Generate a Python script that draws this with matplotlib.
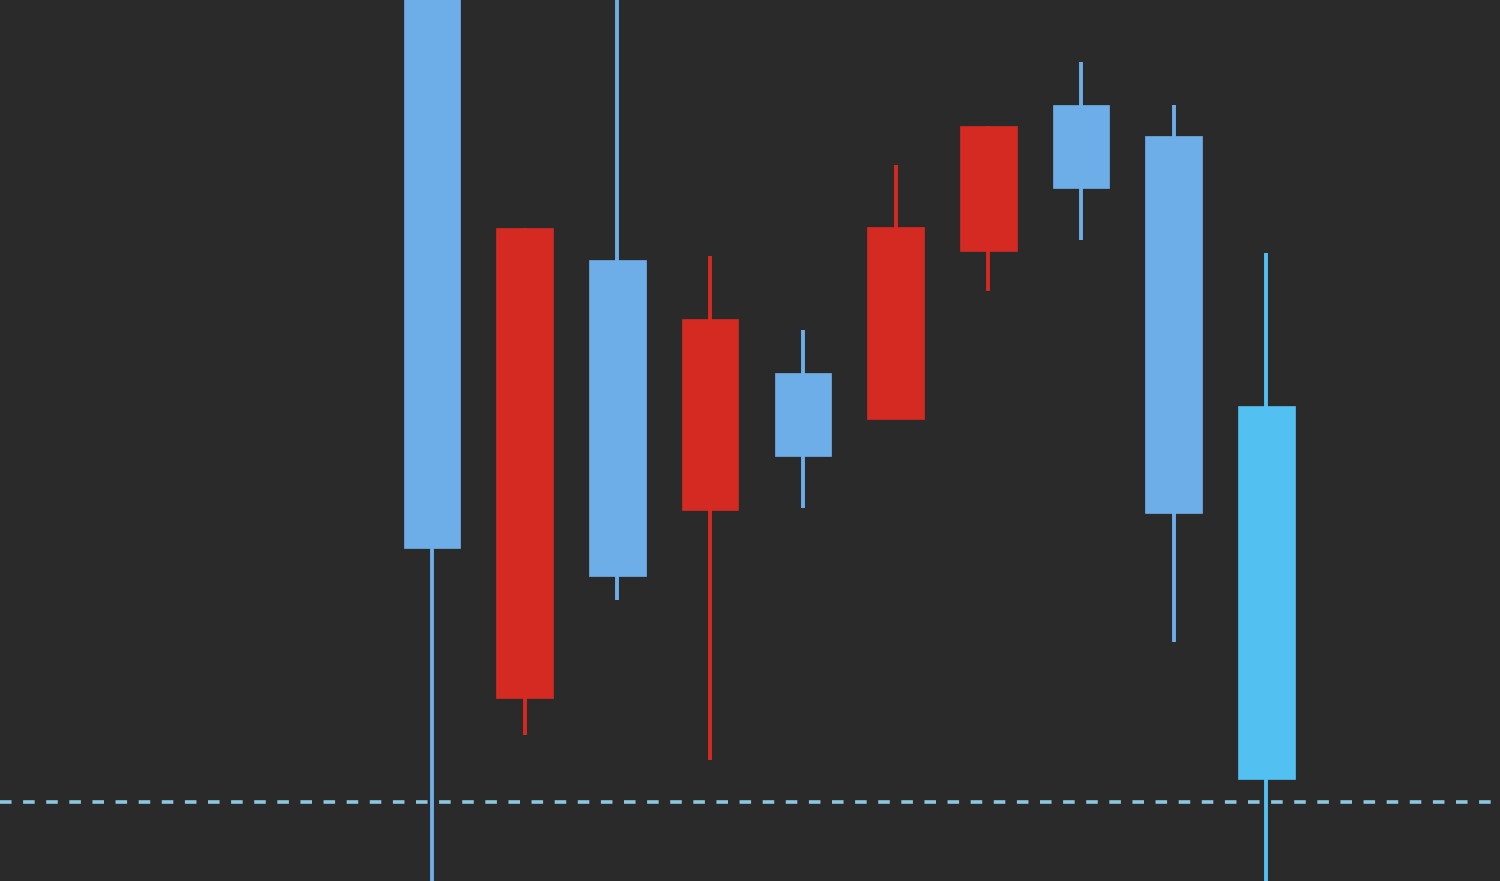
import matplotlib

matplotlib.use("Agg")
import matplotlib.pyplot as plt

# OHLC in arbitrary price units (candle index 0..9)
opens = [95.0, 18.3, 62.1, 37.1, 50.8, 46.2, 63.0, 77.6, 74.5, 47.5]
closes = [33.3, 65.3, 30.5, 56.2, 42.5, 65.4, 75.5, 69.3, 36.8, 10.2]
highs = [100.0, 65.3, 100.0, 62.5, 55.1, 71.6, 75.5, 81.9, 77.6, 62.8]
lows = [-5.0, 14.6, 28.1, 12.1, 37.3, 46.2, 59.0, 64.1, 23.9, -5.0]
level = 7.9  # dashed price line

BG = "#2a2a2a"
UP = "#d42a22"
DOWN = "#6eaee8"

fig = plt.figure(figsize=(15, 8.81), dpi=100)
fig.patch.set_facecolor(BG)
ax = fig.add_axes([0, 0, 1, 1])
ax.set_facecolor(BG)

x = list(range(len(opens)))
colors = [UP if c > o else DOWN for o, c in zip(opens, closes)]
colors[-1] = "#52c0f0"

ax.vlines(x, lows, highs, colors=colors, linewidth=2.8, zorder=2)
bottoms = [min(o, c) for o, c in zip(opens, closes)]
heights = [abs(c - o) for o, c in zip(opens, closes)]
ax.bar(x, heights, bottom=bottoms, width=0.61, color=colors,
       edgecolor=colors, linewidth=0.5, zorder=3)

ax.axhline(level, color="#8cc6e0", linewidth=2.6, dashes=(3.2, 3.2), zorder=1)

ax.set_xlim(-4.66, 11.52)
ax.set_ylim(0, 88.1)
ax.set_axis_off()

fig.savefig("out.png", dpi=100, facecolor=BG)
plt.close(fig)
